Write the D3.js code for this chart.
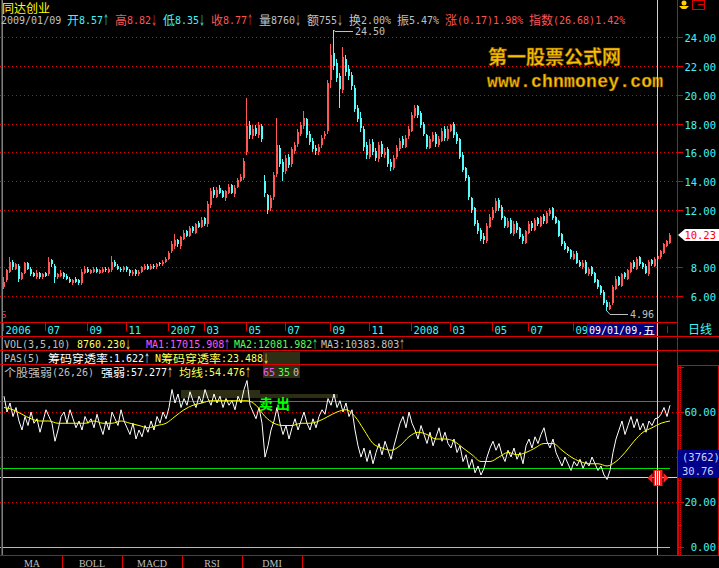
<!DOCTYPE html>
<html><head><meta charset="utf-8">
<script src="https://cdn.jsdelivr.net/npm/d3@7"></script>
<style>html,body{margin:0;padding:0;background:#000;overflow:hidden}</style>
</head><body><svg id="c" width="719" height="568"></svg>
<script>
// ---------- DATA ----------
const opens=[6.6,7.1,7.7,8.4,7.9,8.1,7.2,7.6,8.3,7.9,
7.6,7.3,7.6,7.3,7.6,7.5,8.5,8.1,7.3,7.4,
7.6,7.4,7.2,6.9,7.2,7.1,6.9,7.6,7.9,7.6,
7.7,7.9,7.6,7.7,7.9,7.7,7.8,8.4,8.1,7.9,
7.8,8.0,7.8,7.5,7.8,7.5,7.7,7.9,8.1,7.9,
8.1,8.0,8.3,8.2,8.4,8.6,9.1,9.5,9.9,9.5,
10.0,10.5,10.2,10.8,10.4,11.1,10.8,11.4,11.0,12.3,
13.4,12.9,13.5,13.3,12.8,13.2,13.7,13.1,13.6,14.0,
14.2,16.0,17.9,17.1,17.7,17.2,17.8,14.0,13.0,12.1,
12.9,14.5,16.3,15.3,14.7,15.7,15.2,16.1,16.6,17.3,
17.8,18.3,17.3,16.8,16.3,16.0,16.5,17.1,17.5,21.0,
22.9,22.2,21.3,20.3,22.5,21.8,21.4,20.5,19.1,18.4,
17.6,16.5,15.7,16.7,16.1,15.5,16.6,15.8,16.2,15.3,
14.9,15.7,16.2,16.9,16.4,17.1,17.5,18.5,19.2,18.7,
18.0,17.2,16.3,16.8,17.3,16.5,16.8,17.6,16.9,17.5,
18.0,17.3,16.9,15.8,14.9,14.3,12.8,12.1,11.1,10.6,
10.2,9.8,10.8,11.4,11.9,12.7,12.2,11.5,10.8,11.3,
10.3,11.1,10.7,10.2,9.7,10.4,11.1,10.6,11.4,10.9,
11.6,11.1,11.7,12.1,11.5,11.2,10.3,9.7,9.4,9.2,
8.6,9.0,8.4,8.0,8.4,7.5,8.0,7.6,7.1,6.7,
6.3,5.6,5.1,5.5,6.5,7.3,6.7,7.6,7.2,7.7,
8.4,7.9,8.7,8.3,8.1,7.5,8.5,8.1,8.57,8.7,
9.0,9.5,9.7];
const highs=[7.3,7.9,8.7,8.5,8.3,8.2,7.7,8.4,8.4,8.0,
7.7,7.8,7.7,7.6,7.7,8.7,8.6,8.2,7.6,7.8,
7.7,7.5,7.3,7.2,7.3,7.2,7.9,8.1,8.0,7.9,
8.0,8.0,7.9,8.0,8.0,8.0,8.8,8.5,8.2,8.0,
8.1,8.1,7.9,7.8,7.9,7.8,8.1,8.2,8.2,8.2,
8.2,8.3,8.4,8.5,8.7,9.1,9.8,10.3,10.0,10.2,
10.6,10.6,10.9,10.9,11.1,11.2,11.5,11.5,12.6,13.5,
13.6,13.6,13.7,13.4,13.4,13.8,13.8,13.7,14.2,14.5,
15.6,19.8,18.2,17.9,17.9,18.1,18.0,14.4,13.1,13.0,
14.6,18.4,16.5,15.5,15.8,15.9,16.4,16.7,17.6,18.1,
18.9,18.4,17.5,17.0,16.5,16.6,17.2,17.5,21.0,23.5,
24.5,22.5,21.5,23.3,22.8,22.1,21.6,20.7,19.3,18.8,
17.8,16.7,16.9,16.9,16.3,16.7,16.8,16.3,16.4,15.5,
15.8,16.5,17.0,17.1,17.2,17.8,18.8,19.3,19.3,18.9,
18.1,17.3,17.1,17.4,17.4,17.1,17.7,17.8,17.8,18.0,
18.1,17.4,17.0,16.0,15.0,14.4,12.9,12.2,11.3,10.7,
10.4,11.1,11.7,12.2,12.8,12.8,12.3,11.6,11.4,11.4,
11.2,11.2,10.8,10.3,10.6,11.2,11.2,11.4,11.5,11.6,
11.7,11.9,12.1,12.2,11.6,11.3,10.4,9.8,9.5,9.3,
9.1,9.1,8.5,8.5,8.5,8.0,8.1,7.7,7.2,6.8,
6.4,5.7,5.6,6.8,7.4,7.4,7.6,7.7,7.9,8.4,
8.5,8.7,8.8,8.4,8.2,8.5,8.6,8.7,8.82,9.2,
9.7,9.9,10.4];
const lows=[6.5,7.0,7.6,7.8,7.8,7.0,7.1,7.5,7.8,7.4,
7.3,7.2,7.2,7.2,7.3,7.4,8.0,6.9,7.2,7.3,
7.2,7.1,6.9,6.8,6.9,6.8,6.8,7.5,7.6,7.5,
7.6,7.6,7.5,7.6,7.7,7.6,7.7,8.0,7.8,7.7,
7.7,7.7,7.4,7.4,7.4,7.4,7.6,7.8,7.8,7.8,
7.9,7.9,8.1,8.1,8.3,8.5,9.0,9.3,9.4,9.3,
9.9,10.1,10.1,10.4,10.3,10.7,10.7,10.9,10.8,12.1,
12.8,12.8,13.1,12.8,12.6,13.1,13.1,12.9,13.5,13.9,
14.1,15.8,16.9,16.9,17.1,17.0,16.7,12.9,11.7,11.9,
12.7,14.3,15.0,14.0,14.5,14.9,15.0,15.9,16.4,17.1,
17.6,17.0,16.5,16.0,15.8,15.8,16.3,16.9,17.3,20.5,
21.7,20.9,19.1,20.1,21.3,21.0,20.3,18.8,18.1,17.4,
16.1,15.5,15.5,15.8,15.4,15.3,15.7,15.6,15.0,14.7,
14.8,15.5,16.1,16.3,16.3,16.9,17.4,18.4,18.4,17.7,
17.1,16.2,16.2,16.7,16.4,16.4,16.7,16.8,16.8,17.4,
17.0,16.6,15.5,14.6,14.0,12.7,11.8,10.9,10.3,9.8,
9.6,9.7,10.7,11.3,11.8,11.9,11.3,10.7,10.7,10.3,
10.2,10.4,10.0,9.6,9.6,10.3,10.5,10.5,10.9,10.8,
11.0,11.0,11.6,11.3,11.0,10.1,9.5,9.2,9.0,8.6,
8.5,8.2,8.0,7.9,7.5,7.4,7.4,6.9,6.5,6.1,
5.4,4.96,5.0,5.4,6.4,6.7,6.6,7.2,7.1,7.6,
7.9,7.8,8.1,7.9,7.5,7.4,8.1,8.0,8.35,8.6,
8.9,9.4,9.6];
const closes=[7.0,7.8,8.4,8.0,8.2,7.2,7.6,8.3,7.9,7.5,
7.4,7.6,7.3,7.5,7.4,8.4,8.2,7.3,7.5,7.6,
7.3,7.2,7.0,7.1,7.0,6.9,7.7,7.9,7.7,7.8,
7.9,7.7,7.8,7.9,7.8,7.9,8.4,8.1,7.9,7.8,
8.0,7.8,7.6,7.7,7.5,7.7,8.0,8.1,7.9,8.1,
8.0,8.2,8.2,8.4,8.6,9.0,9.6,9.9,9.6,10.1,
10.4,10.2,10.7,10.5,11.0,10.8,11.3,11.0,12.4,13.3,
13.0,13.4,13.2,12.9,13.3,13.6,13.2,13.5,14.1,14.3,
15.4,17.8,17.2,17.6,17.3,17.9,16.9,13.2,12.0,12.8,
14.4,16.5,15.2,14.6,15.6,15.1,16.2,16.5,17.4,17.9,
18.4,17.2,16.7,16.2,16.1,16.4,17.0,17.3,20.8,22.8,
22.0,21.2,20.4,22.6,21.6,21.3,20.6,19.0,18.3,17.7,
16.4,15.8,16.6,16.0,15.6,16.5,15.9,16.0,15.2,15.0,
15.6,16.3,16.8,16.5,17.0,17.6,18.6,19.1,18.6,17.9,
17.3,16.4,16.9,17.2,16.6,16.9,17.5,17.0,17.6,17.9,
17.2,16.8,15.7,14.8,14.2,12.9,12.0,11.0,10.5,10.0,
9.9,10.9,11.5,12.0,12.6,12.1,11.4,10.9,11.2,10.4,
11.0,10.6,10.1,9.8,10.5,11.0,10.7,11.3,11.0,11.5,
11.2,11.8,12.0,11.4,11.1,10.2,9.6,9.3,9.1,8.7,
8.9,8.3,8.1,8.3,7.6,7.9,7.5,7.0,6.6,6.2,
5.5,5.2,5.4,6.6,7.2,6.8,7.5,7.3,7.8,8.3,
8.0,8.6,8.2,8.0,7.6,8.4,8.2,8.6,8.77,9.1,
9.6,9.8,10.23];
// 个股强弱 (strength) per bar
const strength=[67,60,64,58,62,56,52,58,54,60,55,57,51,56,61,58,55,47,52,58,60,
55,61,57,53,56,52,58,55,57,53,59,54,50,56,52,60,57,54,61,56,53,50,55,48,52,
49,54,51,56,52,58,55,60,57,62,70,64,68,62,66,63,69,65,62,67,64,70,66,63,68,
64,67,62,66,63,65,61,67,64,70,74,63,60,57,62,55,40,45,52,56,
62,55,50,54,48,53,57,52,56,60,55,52,57,53,58,61,59,66,63,68,62,65,60,64,58,61,
52,45,40,44,38,43,37,42,46,41,47,43,39,45,50,55,58,53,60,55,52,48,54,50,
46,51,45,49,53,47,51,46,44,48,42,45,38,41,35,39,33,36,32,35,40,44,47,
43,46,41,38,43,40,44,39,42,37,45,48,44,49,46,50,53,47,44,48,42,
39,36,40,37,34,38,36,39,35,38,36,40,37,34,36,32,30,34,42,48,52,
56,50,54,58,53,57,52,55,51,56,54,57,57.3,59,62,58,63];
// 均线 (moving average), one value every 3 bars
const strengthMA=[62,61,59,57,56,56,55,55,55,55,56,55,55,56,55,54,53,54,55,58,
61,63,64,65,65,65,65,65,63,58,55,54,54,55,55,56,58,60,61,58,
52,46,44,43,45,49,51,50,48,48,47,44,41,38,38,40,42,41,42,44,
46,46,43,40,38,37,37,36,38,42,47,51,53,55,56];
const maStep=3;
const tickLabels=["2006","07","09","11","2007","03","05","07","09","11","2008","03","05","07","09"];
const tickIdx=[0,14,28,41,55,67,81,94,109,122,136,149,163,175,190];
const priceTicks=[24,22,20,18,16,14,12,8,6];
const lowerTicks=[60,20,0];
const cursorIdx=218;
const lastPrice="10.23", maxLabel="24.50", minLabel="4.96";
const tabs=["MA","BOLL","MACD","RSI","DMI"];

// ---------- DRAW ----------
const W=719,H=568;
const RED="#e00000", CYAN="#40f4f4", GRAY="#c0c0c0", UP="#ff5656", DN="#54fcfc";
const svg=d3.select('#c');
svg.append('rect').attr('width',W).attr('height',H).attr('fill','#000');
const N=closes.length;
const x=d3.scaleLinear().domain([0,N-1]).range([4,670]);
const y=d3.scaleLinear().domain([6,24]).range([296,37.3]);
const y2=d3.scaleLinear().domain([0,60]).range([547,412]);
const MONO='"DejaVu Sans Mono", monospace', CJK='"Noto Sans CJK SC", sans-serif';

function hline(y0,x1,x2,col,dash,w){svg.append('line').attr('x1',x1).attr('x2',x2).attr('y1',y0).attr('y2',y0)
  .attr('stroke',col).attr('stroke-width',w||1).attr('stroke-dasharray',dash||null).attr('shape-rendering','crispEdges');}
function vline(x0,y1,y2_,col,dash){svg.append('line').attr('x1',x0).attr('x2',x0).attr('y1',y1).attr('y2',y2_)
  .attr('stroke',col).attr('stroke-dasharray',dash||null).attr('shape-rendering','crispEdges');}
function kind(ch){ if(ch==='↑'||ch==='↓')return 'a'; return /[\u2E80-\u9FFF\uFF00-\uFFEF]/.test(ch)?'c':'m'; }
function runText(x0,yb,pieces,csz){
  let cx=x0; const cs=csz||12;
  pieces.forEach(([s,col])=>{
    let buf='',k=null;
    const flush=()=>{ if(!buf)return;
      const n=[...buf].length;
      const t=svg.append('text').attr('x',cx).attr('fill',col).text(buf);
      if(k==='c'){t.attr('y',yb+0.5).attr('font-family',CJK).attr('font-size',cs).attr('textLength',n*12).attr('lengthAdjust','spacingAndGlyphs');cx+=n*12;}
      else if(k==='a'){t.attr('y',yb+1).attr('font-family',CJK).attr('font-size',cs)
        .attr('textLength',n*6).attr('lengthAdjust','spacingAndGlyphs');cx+=n*6;}
      else {t.attr('y',yb).attr('font-family',MONO).attr('font-size',10);cx+=n*6;}
      buf='';};
    for(const ch of s){const kk=kind(ch); if(k!==null&&kk!==k)flush(); k=kk; buf+=ch;}
    flush();
  });
  return cx;
}

// price grid
priceTicks.forEach(v=>hline(Math.round(y(v))+0.5,0,677,RED,"1,3"));
// lower grid
[60,40,20].forEach(v=>hline(Math.round(y2(v))+0.5,0,677,RED,"1,3"));

// watermark
svg.append('text').attr('x',488).attr('y',64).attr('font-family',CJK).attr('font-weight','bold')
  .attr('font-size',19).attr('fill','#f4c400').attr('stroke','#8a4a00').attr('stroke-width',0.5).text("第一股票公式网");
svg.append('text').attr('x',487).attr('y',87).attr('font-family','"Liberation Mono", monospace').attr('font-weight','bold')
  .attr('font-size',18).attr('textLength',176).attr('fill','#f4c400').attr('stroke','#8a4a00').attr('stroke-width',0.5).text("www.chnmoney.com");

// candles
const cg=svg.append('g').attr('shape-rendering','crispEdges');
for(let i=0;i<N;i++){
  const cx=Math.round(x(i)), o=opens[i], c=closes[i], col=c>=o?UP:DN;
  cg.append('line').attr('x1',cx-0.5).attr('x2',cx-0.5).attr('y1',y(highs[i])).attr('y2',y(lows[i])).attr('stroke',col);
  const t=Math.min(y(o),y(c)), b=Math.max(y(o),y(c));
  cg.append('rect').attr('x',cx-1).attr('width',2).attr('y',t).attr('height',Math.max(1,b-t)).attr('fill',col);
}
// max / min labels
const iMax=highs.indexOf(d3.max(highs)), iMin=lows.indexOf(d3.min(lows));
svg.append('polyline').attr('points',`${x(iMax)},${y(d3.max(highs))} ${x(iMax)+1},31.5 ${x(iMax)+19},31.5`).attr('fill','none').attr('stroke',GRAY);
svg.append('text').attr('x',x(iMax)+21).attr('y',35).attr('fill',GRAY).attr('font-family',MONO).attr('font-size',10).text(maxLabel);
svg.append('polyline').attr('points',`${x(iMin)},${y(d3.min(lows))} ${x(iMin)+3},314.5 ${x(iMin)+21},314.5`).attr('fill','none').attr('stroke',GRAY);
svg.append('text').attr('x',x(iMin)+23).attr('y',318).attr('fill',GRAY).attr('font-family',MONO).attr('font-size',10).text(minLabel);

// red S marker
svg.append('text').attr('x',1).attr('y',318).attr('fill','#ff3030').attr('font-family',MONO).attr('font-size',9).text("S");

// PAS olive blocks
[[263,352,37,26],[181,390,79,8],[260,394,78,4]].forEach(r=>svg.append('rect').attr('x',r[0]).attr('y',r[1]).attr('width',r[2]).attr('height',r[3]).attr('fill','#2e2e14'));

// lower panel lines
hline(Math.round(y2(65))+0.5,0,670,'#ff00ff');
hline(Math.round(y2(35))+0.5,0,670,'#00e000');
hline(547.5,0,670,'#b8b8b8');
const ln=d3.line().x((d,i)=>x(i)).y(d=>y2(d));
svg.append('path').attr('d',ln(strength)).attr('fill','none').attr('stroke','#ffffff').attr('stroke-width',1);
const ln2=d3.line().x((d,i)=>x(i*maStep)).y(d=>y2(d)).curve(d3.curveMonotoneX);
svg.append('path').attr('d',ln2(strengthMA)).attr('fill','none').attr('stroke','#ffff00').attr('stroke-width',1);
svg.append('text').attr('x',259).attr('y',409).attr('fill','#00ff00').attr('font-family',CJK).attr('font-weight','bold')
  .attr('font-size',14).attr('letter-spacing',3).text("卖出");

// crosshair
const curX=Math.round(x(cursorIdx))-0.5;
vline(curX,0,556,'#d0d0d0');
hline(477.5,0,678,'#d8d8d8');
// cursor icon
svg.append('polygon').attr('points',`${curX-10},478 ${curX-5},473 ${curX-5},483`).attr('fill','#ff2020');
svg.append('polygon').attr('points',`${curX+11},478 ${curX+6},473 ${curX+6},483`).attr('fill','#ff2020');
svg.append('rect').attr('x',curX-4).attr('y',470).attr('width',9).attr('height',16).attr('fill','#ff2020');
[-2,0,2].forEach(d=>vline(curX+d,471,485,'#ffffff'));

// frame lines
vline(677.5,0,556,RED);
vline(1,0,556,RED); vline(2.5,0,556,'#808080');
hline(322.5,0,678,RED); hline(336.5,0,719,RED); hline(350.5,0,719,RED); hline(364.5,0,657,RED);
hline(555.5,0,719,RED);

// x axis
tickIdx.forEach((ti,k)=>{
  const px=Math.round(x(ti))-0.5;
  vline(px,323,331,RED);
  svg.append('text').attr('x',px+2).attr('y',334).attr('fill',CYAN).attr('font-family',MONO).attr('font-size',10.5).text(tickLabels[k]);
});
svg.append('rect').attr('x',587.5).attr('y',323.5).attr('width',69).attr('height',12).attr('fill','#000080').attr('stroke',RED).attr('stroke-dasharray','1,1');
runText(589,334,[["09/01/09,五","#ffffff"]],11);
vline(667.5,326,333,RED);
runText(688,333,[["日线",CYAN]]);

// price axis
priceTicks.forEach(v=>{
  const py=Math.round(y(v))+0.5;
  hline(py,678,683,RED);
  svg.append('text').attr('x',716).attr('y',py+4).attr('text-anchor','end').attr('fill',CYAN).attr('font-family',MONO).attr('font-size',10.5).text(v.toFixed(2));
});
svg.append('polygon').attr('points',`678,235 685,229 719,229 719,241 685,241`).attr('fill','#ffffff');
svg.append('text').attr('x',716).attr('y',239).attr('text-anchor','end').attr('fill','#ff0000').attr('font-family',MONO).attr('font-size',10.5).text(lastPrice);

// lower axis
svg.append('rect').attr('x',678.5).attr('y',365.5).attr('width',40).attr('height',190).attr('fill','none').attr('stroke',RED);
vline(680.5,366,555,RED,"1,1");
for(let v=0;v<=80;v+=10){const py=Math.round(y2(v))+0.5; if(py>366&&py<556) hline(py,678,v%20===0?684:682,RED);}
lowerTicks.forEach(v=>{
  svg.append('text').attr('x',716).attr('y',Math.round(y2(v))+4).attr('text-anchor','end').attr('fill',CYAN).attr('font-family',MONO).attr('font-size',10.5).text(v.toFixed(2));
});
svg.append('rect').attr('x',678).attr('y',450).attr('width',41).attr('height',28).attr('fill','#000088');
svg.append('text').attr('x',682).attr('y',461).attr('fill','#c8d4ff').attr('font-family',MONO).attr('font-size',10.5).text("(3762)");
svg.append('text').attr('x',682).attr('y',475).attr('fill','#c8d4ff').attr('font-family',MONO).attr('font-size',10.5).text("30.76");

// header
runText(2,12,[["同达创业","#ffff00"]]);
runText(1,24,[["2009/01/09 ",GRAY],["开8.57↑ ",CYAN],["高8.82↓ ","#ff5454"],["低8.35↓ ",CYAN],["收8.77↑ ","#ff5454"],
  ["量8760↓ 额755↓ 换2.00% 振5.47% ",GRAY],["涨(0.17)1.98% 指数(26.68)1.42%","#ff5454"]]);
// top-right icons
svg.append('circle').attr('cx',684).attr('cy',3).attr('r',2.5).attr('fill','#ffd000');
svg.append('path').attr('d','M679,6 L689,6 L686,9 L682,9 Z').attr('fill','#ffd000');
svg.append('rect').attr('x',692.5).attr('y',0.5).attr('width',12).attr('height',9).attr('fill','none').attr('stroke',RED);
hline(4.5,698,705,RED);

// indicator rows
[[4,"VOL(3,5,10)",GRAY],[77,"8760.230↓","#ffff54"],[146,"MA1:17015.908↑","#ff54ff"],[234,"MA2:12081.982↑","#54ff54"],[321,"MA3:10383.803↑",GRAY]]
  .forEach(p=>runText(p[0],348,[[p[1],p[2]]],11));
[[4,"PAS(5)",GRAY],[48,"筹码穿透率:1.622↑","#ffffff"],[155,"N筹码穿透率:23.488↓","#ffff54"]]
  .forEach(p=>runText(p[0],362,[[p[1],p[2]]],11));
[[4,"个股强弱(26,26)",GRAY],[101,"强弱:57.277↑","#ffffff"],[179,"均线:54.476↑","#ffff54"],[263,"65","#ff54ff"],[278,"35","#54ff54"],[293,"0",GRAY]]
  .forEach(p=>runText(p[0],376,[[p[1],p[2]]],11));

// bottom tabs
tabs.forEach((t,k)=>{
  vline(62.5+60*k,556,568,RED);
  svg.append('text').attr('x',32+60*k).attr('y',567).attr('text-anchor','middle').attr('fill',GRAY).attr('font-family','"Liberation Serif", serif').attr('font-size',10).text(t);
});
</script></body></html>
